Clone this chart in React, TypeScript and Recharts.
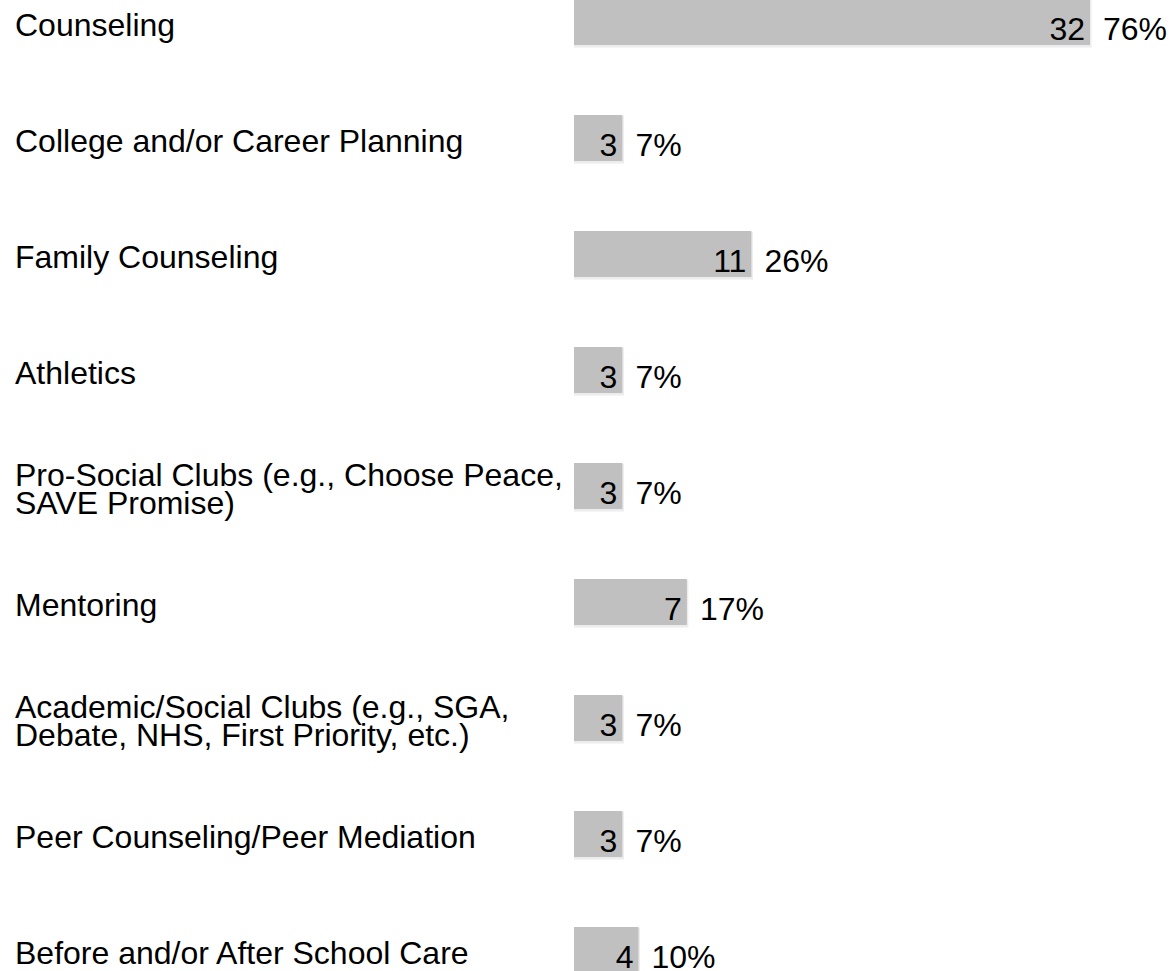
import React from "react";
import { BarChart, Bar, XAxis, YAxis, LabelList } from "recharts";

const categories: string[][] = [
  ["Counseling"],
  ["College and/or Career Planning"],
  ["Family Counseling"],
  ["Athletics"],
  ["Pro-Social Clubs (e.g., Choose Peace,", "SAVE Promise)"],
  ["Mentoring"],
  ["Academic/Social Clubs (e.g., SGA,", "Debate, NHS, First Priority, etc.)"],
  ["Peer Counseling/Peer Mediation"],
  ["Before and/or After School Care"],
];
const counts: number[] = [32, 3, 11, 3, 3, 7, 3, 3, 4];
const percents: string[] = ["76%", "7%", "26%", "7%", "7%", "17%", "7%", "7%", "10%"];

const data = categories.map((c, i) => ({
  name: c.join("\n"),
  count: counts[i],
  pct: percents[i],
}));

const FONT = "'Liberation Sans', Arial, sans-serif";
const FS = 32;
const LINE = 28;

const CategoryTick = (props: any) => {
  const { y, payload } = props;
  const lines: string[] = String(payload.value).split("\n");
  const first = y + 14 - ((lines.length - 1) * LINE) / 2;
  return (
    <text fontFamily={FONT} fontSize={FS} fill="#000" textAnchor="start">
      {lines.map((l, i) => (
        <tspan key={i} x={15} y={first + i * LINE}>
          {l}
        </tspan>
      ))}
    </text>
  );
};

const BarShape = (props: any) => {
  const { x, y, width, height } = props;
  return (
    <g>
      <rect x={x} y={y + 1} width={width + 1.5} height={height + 1.5} fill="#ececec" />
      <rect x={x} y={y} width={width} height={height} fill="#c0c0c0" />
    </g>
  );
};

const CountLabel = (props: any) => {
  const { x, y, width, height, value } = props;
  return (
    <text
      x={x + width - 5}
      y={y + height / 2 + 18}
      fontFamily={FONT}
      fontSize={FS}
      fill="#000"
      textAnchor="end"
    >
      {value}
    </text>
  );
};

const PctLabel = (props: any) => {
  const { x, y, width, height, value } = props;
  return (
    <text
      x={x + width + 13}
      y={y + height / 2 + 18}
      fontFamily={FONT}
      fontSize={FS}
      fill="#000"
      textAnchor="start"
    >
      {value}
    </text>
  );
};

export default function App() {
  return (
    <div style={{ position: "absolute", left: 0, top: -36, background: "#fff" }}>
      <BarChart
        width={1171}
        height={1044}
        data={data}
        layout="vertical"
        margin={{ top: 0, right: 81, bottom: 0, left: 0 }}
        barCategoryGap={70}
      >
        <XAxis type="number" domain={[0, 32]} hide />
        <YAxis
          type="category"
          dataKey="name"
          width={574}
          axisLine={false}
          tickLine={false}
          tick={<CategoryTick />}
          interval={0}
        />
        <Bar
          dataKey="count"
          barSize={46}
          shape={<BarShape />}
          isAnimationActive={false}
        >
          <LabelList dataKey="count" content={<CountLabel />} />
          <LabelList dataKey="pct" content={<PctLabel />} />
        </Bar>
      </BarChart>
    </div>
  );
}
